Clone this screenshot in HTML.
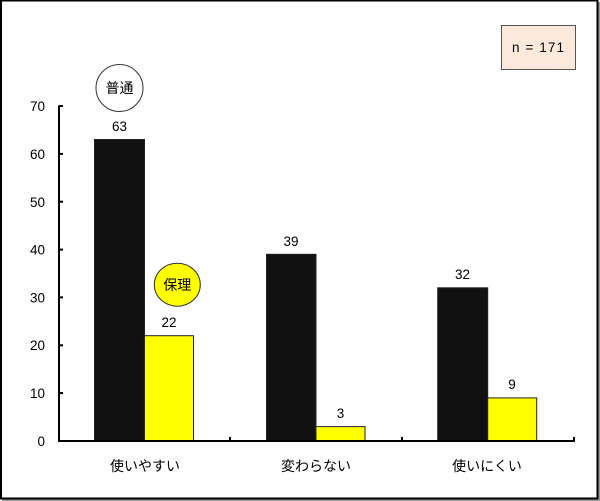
<!DOCTYPE html>
<html><head><meta charset="utf-8"><style>
html,body{margin:0;padding:0;background:#fff;}
svg{display:block;}
text{font-family:"Liberation Sans","Noto Sans CJK JP",sans-serif;fill:#000;}
</style></head><body>
<svg width="600" height="501" viewBox="0 0 600 501" xmlns="http://www.w3.org/2000/svg">
<rect x="0" y="0" width="600" height="501" fill="#fff"/>
<!-- frame with shadow -->
<rect x="598" y="2" width="2" height="499" fill="#999"/>
<rect x="2" y="499.5" width="598" height="1.5" fill="#999"/>
<rect x="1" y="0.5" width="596.5" height="498" fill="none" stroke="#000" stroke-width="2"/>
<!-- n box -->
<rect x="501.5" y="25.5" width="74" height="44" fill="#fde9dc" stroke="#555" stroke-width="1"/>
<text x="512" y="52" font-size="13.5" textLength="52" lengthAdjust="spacing">n = 171</text>
<!-- bars -->
<g stroke="#222" stroke-width="1">
<rect x="94.5" y="139.5" width="50" height="301.5" fill="#111"/>
<rect x="144.5" y="335.7" width="49" height="105.3" fill="#ffff00"/>
<rect x="266.5" y="254.3" width="49.5" height="186.7" fill="#111"/>
<rect x="316" y="426.6" width="49" height="14.4" fill="#ffff00"/>
<rect x="437.7" y="287.8" width="50" height="153.2" fill="#111"/>
<rect x="487.7" y="397.9" width="49" height="43.1" fill="#ffff00"/>
</g>
<!-- axes -->
<line x1="59" y1="105.5" x2="59" y2="442" stroke="#000" stroke-width="2"/>
<line x1="58" y1="441" x2="575" y2="441" stroke="#000" stroke-width="2"/>
<g stroke="#000" stroke-width="2">
<line x1="59" y1="106.0" x2="63" y2="106.0"/>
<line x1="59" y1="153.9" x2="63" y2="153.9"/>
<line x1="59" y1="201.7" x2="63" y2="201.7"/>
<line x1="59" y1="249.6" x2="63" y2="249.6"/>
<line x1="59" y1="297.4" x2="63" y2="297.4"/>
<line x1="59" y1="345.3" x2="63" y2="345.3"/>
<line x1="59" y1="393.1" x2="63" y2="393.1"/>
<line x1="230" y1="437" x2="230" y2="441"/>
<line x1="402" y1="437" x2="402" y2="441"/>
<line x1="574" y1="437" x2="574" y2="441"/>
</g>
<!-- y labels -->
<g font-size="13.5" text-anchor="end">
<text x="45" y="111">70</text>
<text x="45" y="159">60</text>
<text x="45" y="207">50</text>
<text x="45" y="254.5">40</text>
<text x="45" y="302.5">30</text>
<text x="45" y="350">20</text>
<text x="45" y="398">10</text>
<text x="45" y="446">0</text>
</g>
<!-- value labels -->
<g font-size="13.5" text-anchor="middle">
<text x="119.5" y="131">63</text>
<text x="169" y="327">22</text>
<text x="291" y="246">39</text>
<text x="340.5" y="418">3</text>
<text x="462.5" y="279">32</text>
<text x="512" y="389">9</text>
</g>
<!-- category labels -->
<g font-size="14" text-anchor="middle">
<text x="145" y="471">使いやすい</text>
<text x="316" y="471">変わらない</text>
<text x="487" y="471">使いにくい</text>
</g>
<!-- circles -->
<ellipse cx="119.5" cy="88" rx="23.5" ry="23.5" fill="#fff" stroke="#333" stroke-width="1"/>
<text x="119.5" y="93" font-size="14" text-anchor="middle">普通</text>
<ellipse cx="177.3" cy="284.7" rx="23" ry="21.5" fill="#ffff00" stroke="#333" stroke-width="1"/>
<text x="177.3" y="290" font-size="14" text-anchor="middle">保理</text>
</svg>
</body></html>
